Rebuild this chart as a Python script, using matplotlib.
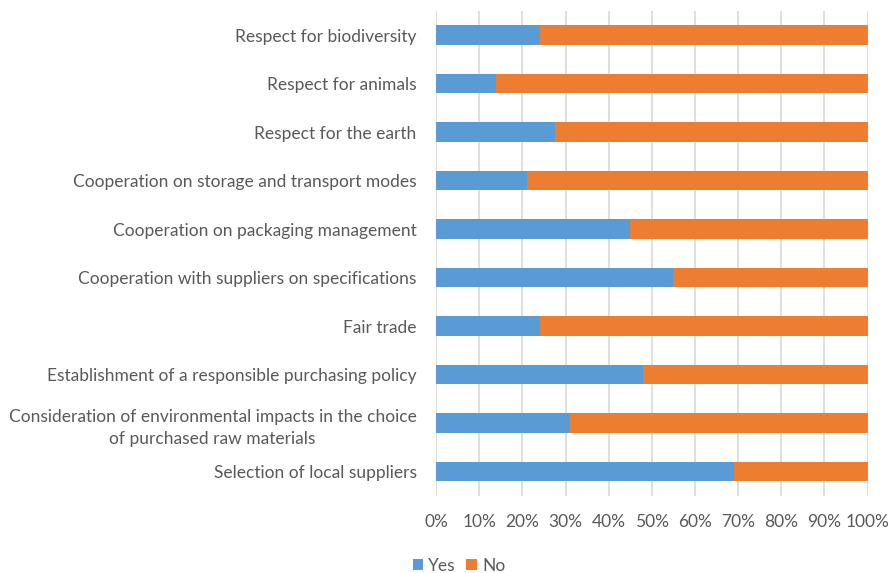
import matplotlib
matplotlib.use("Agg")
import matplotlib.pyplot as plt
from matplotlib.ticker import FuncFormatter, MultipleLocator

categories = [
    "Selection of local suppliers",
    "Consideration of environmental impacts in the choice\nof purchased raw materials",
    "Establishment of a responsible purchasing policy",
    "Fair trade",
    "Cooperation with suppliers on specifications",
    "Cooperation on packaging management",
    "Cooperation on storage and transport modes",
    "Respect for the earth",
    "Respect for animals",
    "Respect for biodiversity",
]
yes = [69, 31, 48, 24, 55, 45, 21, 27.5, 14, 24]
no = [100 - v for v in yes]

plt.rcParams['font.family'] = ['Lato', 'DejaVu Sans']
text_color = '#595959'
fs = 12.5

fig = plt.figure(figsize=(8.9, 5.73), dpi=100)
ax = fig.add_axes([0.4899, 0.1348, 0.4850, 0.8464])

y = range(len(categories))
ax.barh(y, yes, height=0.4, color='#5B9BD5', label='Yes', zorder=3)
ax.barh(y, no, left=yes, height=0.4, color='#ED7D31', label='No', zorder=3)

ax.set_xlim(0, 100)
ax.set_ylim(-0.5, len(categories) - 0.5)
ax.xaxis.set_major_locator(MultipleLocator(10))
ax.xaxis.set_major_formatter(FuncFormatter(lambda v, p: f"{int(round(v))}%"))
ax.set_yticks(list(y))
ax.set_yticklabels(categories, ha='right', multialignment='center', linespacing=1.5)
ax.tick_params(axis='both', length=0, labelsize=fs, labelcolor=text_color)
ax.tick_params(axis='y', pad=14)
ax.tick_params(axis='x', pad=13)
ax.grid(axis='x', color='#d9d9d9', linewidth=1.2, zorder=0)
for s in ax.spines.values():
    s.set_visible(False)

handles, labels = ax.get_legend_handles_labels()
fig.legend(handles, labels, loc='center', bbox_to_anchor=(459 / 890, 1 - 566 / 573),
           ncol=2, frameon=False, fontsize=fs, handlelength=0.6, handleheight=0.6,
           handletextpad=0.3, columnspacing=0.6, labelcolor=text_color)

fig.savefig('out.png', dpi=100)
